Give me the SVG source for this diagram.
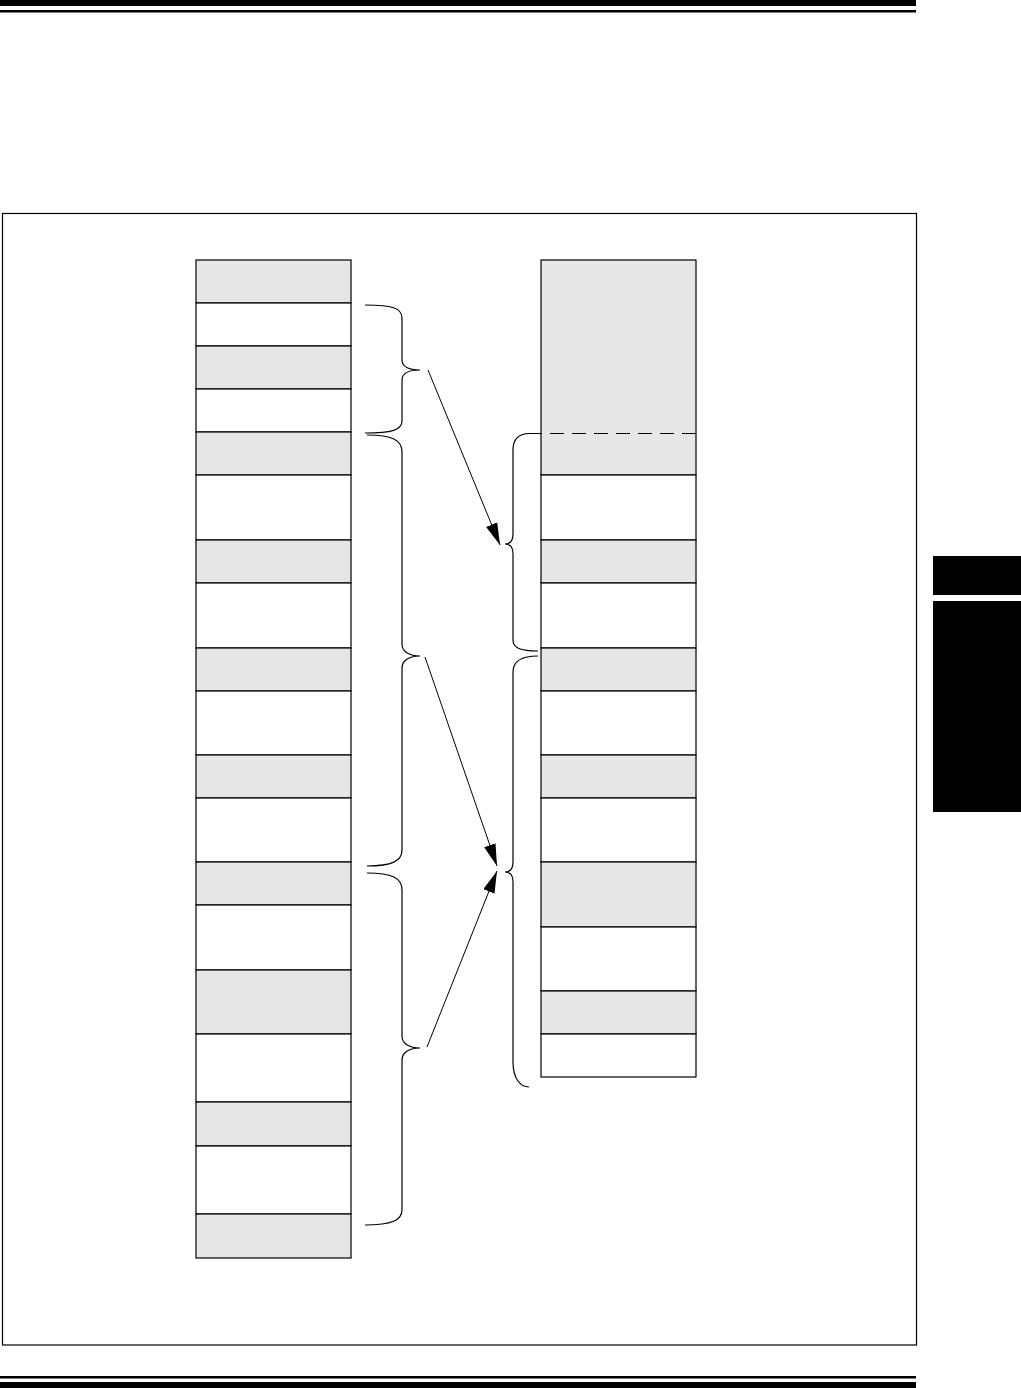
<svg xmlns="http://www.w3.org/2000/svg" width="1021" height="1388" viewBox="0 0 1021 1388">
<style>
.g{fill:#e6e6e6;stroke:#000;stroke-width:1.2}
.w{fill:#fff;stroke:#000;stroke-width:1.2}
.br{fill:none;stroke:#000;stroke-width:1.2}
.ar{fill:none;stroke:#000;stroke-width:1}
</style>
<defs>
<marker id="ah" markerUnits="userSpaceOnUse" markerWidth="24" markerHeight="14" refX="22" refY="6" orient="auto">
<path d="M0,0 L22,6 L0,12 z" fill="#000"/>
</marker>
</defs>
<rect width="1021" height="1388" fill="#fff"/>
<rect x="0" y="0" width="916" height="6" fill="#000"/>
<rect x="0" y="10" width="916" height="2.5" fill="#000"/>
<rect x="0" y="1376" width="916" height="2.5" fill="#000"/>
<rect x="0" y="1382" width="916" height="6" fill="#000"/>
<rect x="2.5" y="213.5" width="914" height="1131.5" fill="none" stroke="#000" stroke-width="1.2"/>
<g id="tab">
<rect x="933" y="556" width="88" height="256" fill="#000"/>
<rect x="933" y="595" width="88" height="6" fill="#fff"/>
</g>
<g id="left-column">
<rect class="g" x="196" y="260" width="155" height="43"/>
<rect class="w" x="196" y="303" width="155" height="43"/>
<rect class="g" x="196" y="346" width="155" height="43"/>
<rect class="w" x="196" y="389" width="155" height="43"/>
<rect class="g" x="196" y="432" width="155" height="43"/>
<rect class="w" x="196" y="475" width="155" height="65"/>
<rect class="g" x="196" y="540" width="155" height="43"/>
<rect class="w" x="196" y="583" width="155" height="65"/>
<rect class="g" x="196" y="648" width="155" height="43"/>
<rect class="w" x="196" y="691" width="155" height="64"/>
<rect class="g" x="196" y="755" width="155" height="43"/>
<rect class="w" x="196" y="798" width="155" height="64"/>
<rect class="g" x="196" y="862" width="155" height="43"/>
<rect class="w" x="196" y="905" width="155" height="65"/>
<rect class="g" x="196" y="970" width="155" height="64"/>
<rect class="w" x="196" y="1034" width="155" height="68"/>
<rect class="g" x="196" y="1102" width="155" height="44"/>
<rect class="w" x="196" y="1146" width="155" height="68"/>
<rect class="g" x="196" y="1214" width="155" height="44"/>
</g>
<g id="right-column">
<rect class="g" x="541" y="260" width="155" height="215"/>
<line x1="528" y1="433.5" x2="696" y2="433.5" stroke="#000" stroke-width="1.2" stroke-dasharray="14,8"/>
<rect class="w" x="541" y="475" width="155" height="65"/>
<rect class="g" x="541" y="540" width="155" height="43"/>
<rect class="w" x="541" y="583" width="155" height="65"/>
<rect class="g" x="541" y="648" width="155" height="43"/>
<rect class="w" x="541" y="691" width="155" height="64"/>
<rect class="g" x="541" y="755" width="155" height="43"/>
<rect class="w" x="541" y="798" width="155" height="64"/>
<rect class="g" x="541" y="862" width="155" height="65"/>
<rect class="w" x="541" y="927" width="155" height="64"/>
<rect class="g" x="541" y="991" width="155" height="43"/>
<rect class="w" x="541" y="1034" width="155" height="43"/>
</g>
<g id="braces">
<path class="br" d="M365,305 C392,305 402,308 402,318 L402,360 C402,367 410,370 420,370 C410,370 402,373 402,380 L402,421 C402,430 392,433 365,433"/>
<path class="br" d="M367,435 C392,435 402,440 402,452 L402,644 C402,652 410,656 420,656 C410,656 402,660 402,668 L402,850 C402,861 392,866 367,866"/>
<path class="br" d="M367,873 C392,873 402,878 402,890 L402,1036 C402,1044 410,1048 420,1048 C410,1048 402,1052 402,1060 L402,1210 C402,1220 392,1225 365,1225"/>
<path class="br" d="M530,433.5 C518,433.5 513,440 513,450 L513,534 C513,541 510,544 505,544 C510,544 513,547 513,554 L513,640 C513,648 520,651 538,651"/>
<path class="br" d="M538,656 C520,656 513,662 513,672 L513,862 C513,869 510,872 505,872 C510,872 513,875 513,882 L513,1062 C513,1078 520,1087 529,1087"/>
</g>
<g id="connectors">
<line class="ar" x1="428" y1="370" x2="500" y2="545" marker-end="url(#ah)"/>
<line class="ar" x1="425" y1="657" x2="497" y2="866" marker-end="url(#ah)"/>
<line class="ar" x1="427" y1="1047" x2="497" y2="871" marker-end="url(#ah)"/>
</g>
</svg>
